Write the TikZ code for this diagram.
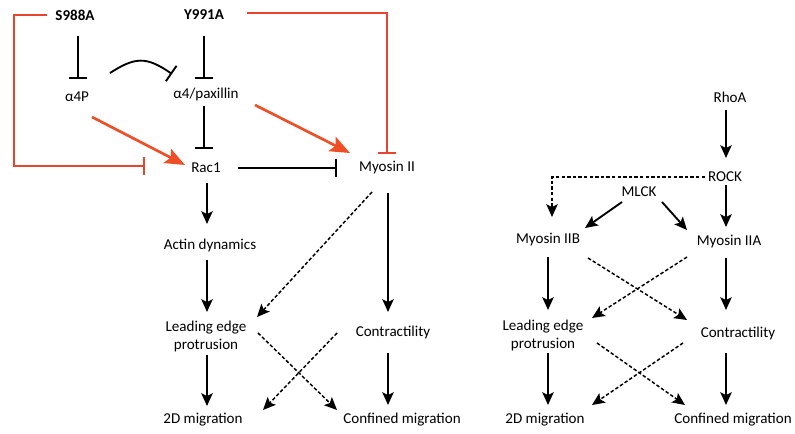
\documentclass[tikz,border=0pt]{standalone}
\usepackage{fontspec}
\setmainfont{Carlito}
\usetikzlibrary{arrows.meta,calc}
\definecolor{redline}{HTML}{E8432E}
\definecolor{redarrow}{HTML}{EE4F26}
\begin{document}
\begin{tikzpicture}[x=0.75pt,y=-0.75pt,
  lbl/.style={inner sep=0pt,font=\fontsize{11.3}{13.5}\selectfont,align=center},
  blbl/.style={inner sep=0pt,font=\fontsize{11.3}{13.5}\selectfont\bfseries},
  arr/.style={line width=1.4pt,-{Stealth[length=9.5pt,width=8.5pt,inset=2pt]}},
  darr/.style={arr,line width=1.1pt,dash pattern=on 2.6pt off 1.6pt},
  tbar/.style={line width=1.4pt,-{Bar[width=14pt,line width=1.4pt]}},
  rbar/.style={line width=1.5pt,draw=redline,-{Bar[width=14pt,line width=1.5pt]}},
  rarr/.style={line width=2pt,draw=redarrow,-{Stealth[length=15pt,width=12pt,inset=3pt]}}]
\useasboundingbox (0,0) rectangle (795,434);

% left panel nodes
\node[blbl] (s988) at (75,15) {S988A};
\node[blbl] (y991) at (204,15) {Y991A};
\node[lbl] (a4p) at (77,97) {α4P};
\node[lbl] (a4pax) at (206,94) {α4/paxillin};
\node[lbl] (rac1) at (206,168) {Rac1};
\node[lbl] (myo) at (387,168) {Myosin II};
\node[lbl] (actin) at (210,245) {Actin dynamics};
\node[lbl] (lead) at (206,336) {Leading edge\\protrusion};
\node[lbl] (contr) at (393,332) {Contractility};
\node[lbl] (mig2d) at (203,420) {2D migration};
\node[lbl] (conf) at (402,420) {Confined migration};

% right panel nodes
\node[lbl] (rhoa) at (730,97) {RhoA};
\node[lbl] (rock) at (725,177) {ROCK};
\node[lbl] (mlck) at (639,192) {MLCK};
\node[lbl] (myoB) at (548,240) {Myosin IIB};
\node[lbl] (myoA) at (729,242) {Myosin IIA};
\node[lbl] (lead2) at (543,335) {Leading edge\\protrusion};
\node[lbl] (contr2) at (738,333) {Contractility};
\node[lbl] (mig2dR) at (545,420) {2D migration};
\node[lbl] (confR) at (733,420) {Confined migration};

% black inhibitions
\draw[tbar] ($(s988)+(3,21)$) -- ($(a4p)+(1,-18)$);
\draw[tbar] ($(y991)+(0,21)$) -- ($(a4pax)+(-2,-15)$);
\draw[tbar] ($(a4pax)+(-2,12)$) -- ($(rac1)+(-2,-19)$);
\draw[tbar] ($(rac1)+(32,0)$) -- ($(myo)+(-50,0)$);
\draw[tbar] ($(a4p)+(33,-24)$) .. controls ($(a4p)+(58,-40)$) and ($(a4pax)+(-60,-38)$) .. ($(a4pax)+(-34,-20)$);

% red connectors
\draw[rbar] ($(s988)+(-28,0)$) -| ($(rac1)+(-192,-2)$) -- ($(rac1)+(-61,-2)$);
\draw[rbar] ($(y991)+(43,-2)$) -| ($(myo)+(0,-14)$);
\draw[rarr] ($(a4p)+(15,20)$) -- ($(rac1)+(-21,-3)$);
\draw[rarr] ($(a4pax)+(49,11)$) -- ($(myo)+(-37,-15)$);

% left lower arrows
\draw[arr] ($(rac1)+(1,15)$) -- ($(actin)+(-3,-21)$);
\draw[arr] ($(actin)+(-3,15)$) -- ($(lead)+(1,-24)$);
\draw[arr] ($(lead)+(1,19)$) -- ($(mig2d)+(4,-14)$);
\draw[arr] ($(myo)+(1,25)$) -- ($(contr)+(-5,-20)$);
\draw[arr] ($(contr)+(-5,21)$) -- ($(conf)+(-14,-15)$);
\draw[darr] ($(myo)+(-15,24)$) -- ($(lead)+(51,-19)$);
\draw[darr] ($(lead)+(52,-3)$) -- ($(conf)+(-65,-10)$);
\draw[darr] ($(contr)+(-56,1)$) -- ($(mig2d)+(60,-10)$);

% right panel arrows
\draw[arr] ($(rhoa)+(-4,13)$) -- ($(rock)+(1,-19)$);
\draw[arr] ($(rock)+(1,8)$) -- ($(myoA)+(-3,-15)$);
\draw[arr] ($(myoA)+(-3,16)$) -- ($(contr2)+(-12,-23)$);
\draw[arr] ($(contr2)+(-12,20)$) -- ($(confR)+(-7,-15)$);
\draw[arr] ($(myoB)+(0,17)$) -- ($(lead2)+(5,-25)$);
\draw[arr] ($(lead2)+(5,18)$) -- ($(mig2dR)+(3,-15)$);
\draw[arr] ($(mlck)+(-17,10)$) -- ($(myoB)+(37,-12)$);
\draw[arr] ($(mlck)+(23,10)$) -- ($(myoA)+(-42,-12)$);
\draw[darr] ($(rock)+(-20,0)$) -| ($(myoB)+(4,-23)$);
\draw[darr] ($(myoB)+(40,18)$) -- ($(contr2)+(-51,-13)$);
\draw[darr] ($(myoA)+(-42,15)$) -- ($(lead2)+(49,-17)$);
\draw[darr] ($(lead2)+(54,8)$) -- ($(confR)+(-48,-15)$);
\draw[darr] ($(contr2)+(-55,10)$) -- ($(mig2dR)+(47,-15)$);
\end{tikzpicture}
\end{document}
